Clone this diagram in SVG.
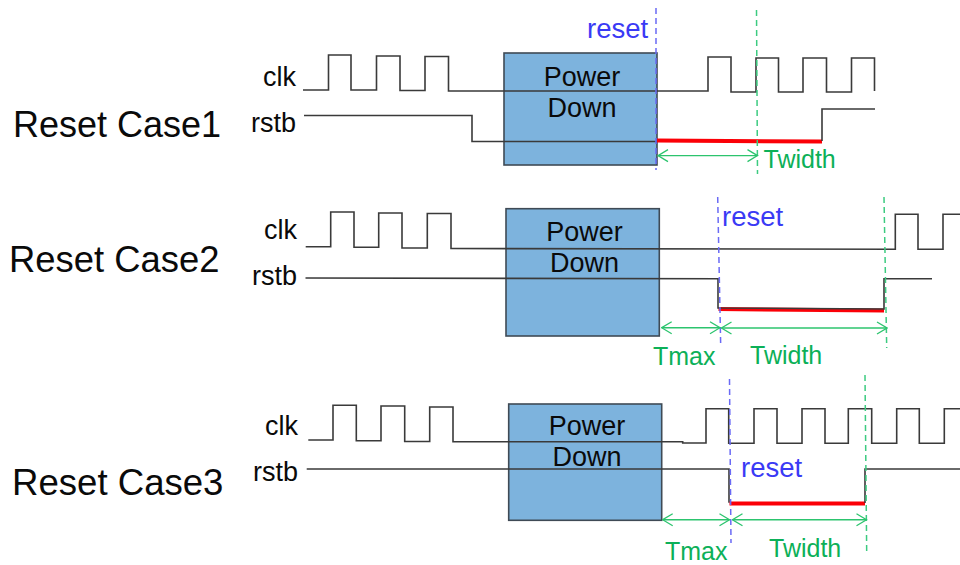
<svg xmlns="http://www.w3.org/2000/svg" width="960" height="565" viewBox="0 0 960 565">
<style>
text{font-family:"Liberation Sans",Arial,sans-serif;fill:#0a0a0a}
.case{font-size:36.4px}
.sig{font-size:27px;text-anchor:end}
.pd{font-size:27px;text-anchor:middle}
.rs{font-size:27.5px;fill:#3a3af5}
.tm{font-size:25px;fill:#0cb058}
.box{fill:#7db3dd;stroke:#3f4a55;stroke-width:1.6}
.w{fill:none;stroke:#3a3a3a;stroke-width:1.6}
.red{fill:none;stroke:#fb0007;stroke-width:4}
.bd{fill:none;stroke:#6a6af5;stroke-width:1.5;stroke-dasharray:6 4}
.gd{fill:none;stroke:#3ccb80;stroke-width:1.5;stroke-dasharray:6 4}
.ar{fill:none;stroke:#2cc46e;stroke-width:1.4;marker-start:url(#o);marker-end:url(#o)}
</style>
<defs>
<marker id="o" viewBox="0 0 12 14" refX="11" refY="7" markerWidth="12" markerHeight="14" markerUnits="userSpaceOnUse" orient="auto-start-reverse">
<path d="M1 1L11 7L1 13" fill="none" stroke="#2cc46e" stroke-width="1.3"/>
</marker>
</defs>
<g id="case1">
<text class="case" x="13" y="137" style="font-size:36px">Reset Case1</text>
<text class="sig" x="296" y="86">clk</text>
<text class="sig" x="296" y="132">rstb</text>
<g id="powerdown1"><rect class="box" x="504" y="53" width="153" height="112"/>
<text class="pd" x="582" y="86">Power</text><text class="pd" x="582" y="116.5">Down</text></g>
<text class="rs" x="587" y="38">reset</text>
<text class="tm" x="763.5" y="168">Twidth</text>
</g>
<g id="case2">
<text class="case" x="9" y="271.5">Reset Case2</text>
<text class="sig" x="297" y="239">clk</text>
<text class="sig" x="297" y="285">rstb</text>
<g id="powerdown2"><rect class="box" x="506" y="208.7" width="153.3" height="127.3"/>
<text class="pd" x="584.5" y="241">Power</text><text class="pd" x="584.5" y="271.5">Down</text></g>
<text class="rs" x="722" y="226">reset</text>
<text class="tm" x="653" y="365">Tmax</text>
<text class="tm" x="750" y="364">Twidth</text>
</g>
<g id="case3">
<text class="case" x="12" y="494.5" style="font-size:36.6px">Reset Case3</text>
<text class="sig" x="298" y="435">clk</text>
<text class="sig" x="298" y="481">rstb</text>
<g id="powerdown3"><rect class="box" x="508.7" y="404" width="153" height="116.3"/>
<text class="pd" x="587" y="435">Power</text><text class="pd" x="587" y="465.5">Down</text></g>
<text class="rs" x="741" y="477">reset</text>
<text class="tm" x="665" y="559.5">Tmax</text>
<text class="tm" x="769" y="557">Twidth</text>
</g>
<g id="connectors">
<path class="w" d="M303 90H328.5V55H351V90H376.5V56H400V90.5H425V56.5H448.5V91H708V57H731V92H756V58H778.5V92H803V58H826.5V92H851.5V58H874.5V91"/>
<path class="w" d="M304 115.5H472V141.5H657"/>
<path class="red" d="M657 140.5L822 141.5"/>
<path class="w" d="M822 141V109H875"/>
<path class="bd" d="M656 8V170"/>
<path class="gd" d="M756.5 10L757.5 174"/>
<path class="ar" d="M658 155.6H757.5"/>
<path class="w" d="M305.7 246.7H330.7V212H354V247.3H378.7V213H402V248H427.3V213.5H451V248.5L895.3 249.3V214.3H918V249.3H943V214.3H960"/>
<path class="red" d="M718.5 309L884 310.5"/>
<path class="w" d="M305.5 278L718 278.7V308L884 309V278.7H932"/>
<path class="bd" d="M717.7 197L720.7 346"/>
<path class="gd" d="M884 197L886.7 348"/>
<path class="ar" d="M661.7 327.7H720"/>
<path class="ar" d="M721.5 328H887"/>
<path class="w" d="M308.3 440H333V405.3H356.3V440.7H381V406H404.7V441.5H429.7V407H453V441.7H682.7V443H706V408.7H728.7V443.3H754V408.7H777V443.3H802V408.7H825V443.3H848.3V408.7H871.7V443.3H896.7V408.7H919.3V443.3H944.3V408.7H960"/>
<path class="w" d="M306.7 469H729V502.7"/>
<path class="red" d="M729.5 503.5H865"/>
<path class="w" d="M865 503V469H960"/>
<path class="bd" d="M729.5 379L731 543"/>
<path class="gd" d="M865 375L866.7 553"/>
<path class="ar" d="M662.7 519.7H729.5"/>
<path class="ar" d="M732.5 519.7H866.5"/>
</g>
</svg>
